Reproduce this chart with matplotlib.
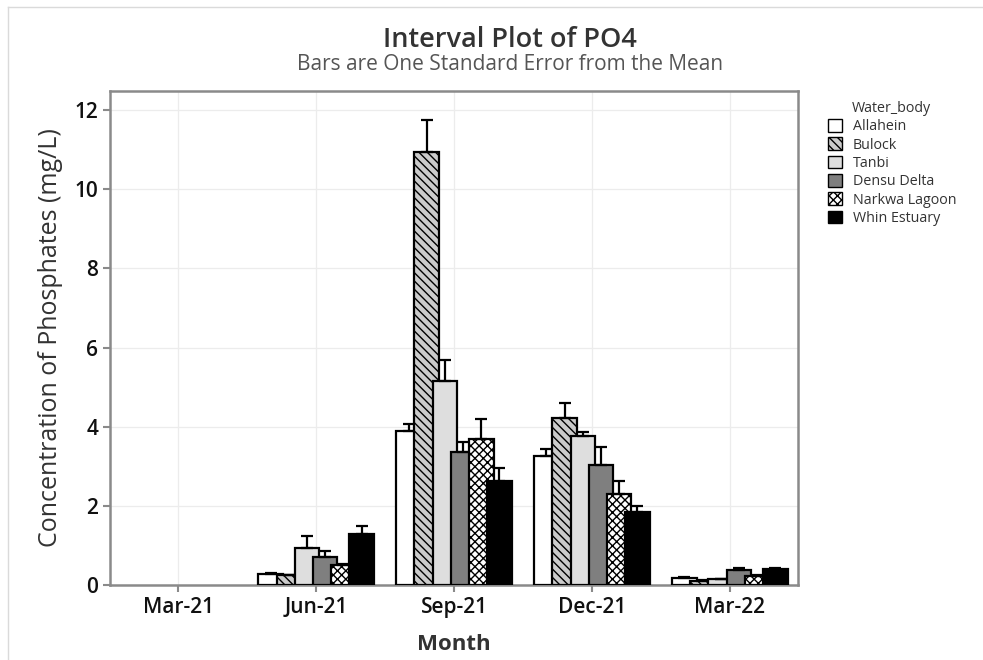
import numpy as np
import matplotlib
matplotlib.use("Agg")
import matplotlib.pyplot as plt
from matplotlib.patches import Patch
from matplotlib.lines import Line2D

plt.rcParams['font.family'] = ['Open Sans', 'DejaVu Sans']
plt.rcParams['hatch.linewidth'] = 1.0

months = ["Mar-21", "Jun-21", "Sep-21", "Dec-21", "Mar-22"]
water_bodies = ["Allahein", "Bulock", "Tanbi", "Densu Delta", "Narkwa Lagoon", "Whin Estuary"]

nan = np.nan
# mean PO4 per month (mg/L); no samples in Mar-21
allahein = [nan, 0.28, 3.90, 3.26, 0.17]
bulock = [nan, 0.25, 10.95, 4.21, 0.10]
tanbi = [nan, 0.94, 5.15, 3.76, 0.14]
densu = [nan, 0.72, 3.35, 3.03, 0.37]
narkwa = [nan, 0.50, 3.68, 2.30, 0.22]
whin = [nan, 1.29, 2.63, 1.85, 0.40]

# one standard error
allahein_se = [nan, 0.02, 0.17, 0.17, 0.03]
bulock_se = [nan, 0.00, 0.80, 0.38, 0.02]
tanbi_se = [nan, 0.30, 0.53, 0.11, 0.02]
densu_se = [nan, 0.14, 0.27, 0.45, 0.06]
narkwa_se = [nan, 0.03, 0.51, 0.33, 0.03]
whin_se = [nan, 0.19, 0.33, 0.15, 0.02]

means = [allahein, bulock, tanbi, densu, narkwa, whin]
errors = [allahein_se, bulock_se, tanbi_se, densu_se, narkwa_se, whin_se]

styles = [
    dict(facecolor="white", hatch=None),
    dict(facecolor="#cbcbcb", hatch="\\\\\\\\"),
    dict(facecolor="#dedede", hatch=None),
    dict(facecolor="#7f7f7f", hatch=None),
    dict(facecolor="white", hatch="xxxx"),
    dict(facecolor="black", hatch=None),
]

fig = plt.figure(figsize=(9.83, 6.6), dpi=100)
ax = fig.add_axes([110 / 983, 75 / 660, 688 / 983, 494 / 660])

x = np.arange(len(months))
step = 0.132
width = 0.178
for i, (vals, se, st) in enumerate(zip(means, errors, styles)):
    pos = x + (i - 2.5) * step
    ax.bar(pos, vals, width=width, facecolor=st["facecolor"], hatch=st["hatch"],
           edgecolor="black", linewidth=1.6, zorder=3 + i)
    low = np.zeros(len(se))
    ax.errorbar(pos, vals, yerr=[low, se], fmt="none", ecolor="black",
                elinewidth=1.6, capsize=4, capthick=1.6, zorder=3.5 + i)

ax.set_xlim(-0.495, 4.495)
ax.set_ylim(0, 12.48)
ax.set_xticks(x)
ax.set_xticklabels(months)
ax.set_yticks(np.arange(0, 13, 2))
ax.grid(True, color="#ececec", linewidth=0.9, zorder=0)
ax.set_axisbelow(True)
for s in ax.spines.values():
    s.set_color("#8a8a8a")
    s.set_linewidth(1.8)
ax.tick_params(axis="both", colors="#8a8a8a", length=5, width=1.5,
               labelcolor="#111111", labelsize=15)
for lab in ax.get_xticklabels() + ax.get_yticklabels():
    lab.set_fontweight("semibold")

ax.set_xlabel("Month", fontsize=16, fontweight="bold", color="#333333", labelpad=12)
ax.set_ylabel("Concentration of Phosphates (mg/L)", fontsize=18, color="#333333", labelpad=8)

fig.text(510 / 983, 1 - 40 / 660, "Interval Plot of PO4", ha="center", va="center",
         fontsize=19.5, fontweight="semibold", color="#333333")
fig.text(510 / 983, 1 - 65 / 660, "Bars are One Standard Error from the Mean", ha="center",
         va="center", fontsize=15, color="#555555")

# legend
handles = [Patch(facecolor=st["facecolor"], hatch=st["hatch"], edgecolor="black", linewidth=1.0)
           for st in styles]
fig.text(852 / 983, 1 - 108 / 660, "Water_body", ha="left", va="center", fontsize=10.3,
         color="#333333")
fig.legend(handles, water_bodies, loc="upper left", bbox_to_anchor=(828 / 983, 1 - 119 / 660),
           frameon=False, fontsize=10.3, handlelength=1.0, handleheight=1.0,
           handletextpad=0.75, labelspacing=0.21, borderpad=0, borderaxespad=0,
           labelcolor="#333333")

# outer frame
fig.add_artist(Line2D([8 / 983, 1], [1 - 7 / 660, 1 - 7 / 660], transform=fig.transFigure,
                      color="#dadada", linewidth=1.0))
fig.add_artist(Line2D([8 / 983, 8 / 983], [0, 1 - 7 / 660], transform=fig.transFigure,
                      color="#dadada", linewidth=1.0))

fig.savefig("out.png", dpi=100)
